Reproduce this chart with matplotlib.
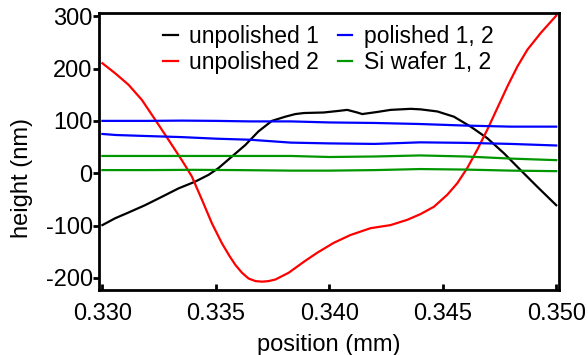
import numpy as np
import matplotlib
matplotlib.use("Agg")
import matplotlib.pyplot as plt

plt.rcParams['font.family'] = ['Liberation Sans', 'DejaVu Sans']
plt.rcParams['axes.unicode_minus'] = False

# unpolished 1 (black)
x_unpol1 = [0.33000, 0.33056, 0.33115, 0.33188, 0.33262, 0.33335, 0.33409, 0.33468,
            0.33512, 0.33571, 0.33630, 0.33688, 0.33747, 0.33806, 0.33850, 0.33888,
            0.33975, 0.34040, 0.34079, 0.34123, 0.34145, 0.34211, 0.34270, 0.34358,
            0.34402, 0.34476, 0.34549, 0.34623, 0.34696, 0.34770, 0.34843, 0.34917,
            0.35000]
h_unpol1 = [-99, -86, -75, -61, -45, -29, -16, -3,
            10, 32, 54, 80, 100, 108, 113, 115,
            116, 119, 121, 116, 113, 117, 121, 123,
            122, 118, 108, 89, 67, 38, 6, -26,
            -61]

# unpolished 2 (red)
x_unpol2 = [0.33000, 0.33056, 0.33115, 0.33174, 0.33233, 0.33291, 0.33350, 0.33394,
            0.33439, 0.33483, 0.33527, 0.33560, 0.33586, 0.33615, 0.33644, 0.33675,
            0.33703, 0.33732, 0.33762, 0.33821, 0.33888, 0.33946, 0.34019, 0.34093,
            0.34181, 0.34270, 0.34343, 0.34402, 0.34461, 0.34520, 0.34564, 0.34608,
            0.34652, 0.34696, 0.34740, 0.34785, 0.34829, 0.34873, 0.34932, 0.35000]
h_unpol2 = [210, 191, 169, 140, 102, 64, 25, -6,
            -51, -96, -134, -158, -175, -190, -201, -206,
            -207, -206, -203, -190, -169, -152, -133, -118,
            -105, -99, -89, -78, -64, -41, -19, 10,
            45, 83, 124, 166, 204, 236, 268, 301]

# polished 1, 2 (blue)
x_pol = [0.3300, 0.3306, 0.3320, 0.3335, 0.3350, 0.3365, 0.3383, 0.3400,
         0.3420, 0.3440, 0.3460, 0.3480, 0.3500]
h_pol1 = [100, 100, 100, 100.5, 100, 99, 99, 97, 96, 94, 91, 89, 89]
h_pol2 = [75, 73, 71, 69, 66, 64, 58.5, 57, 56, 59, 58, 56, 53]

# Si wafer 1, 2 (green)
x_si = [0.3300, 0.3320, 0.3340, 0.3360, 0.3383, 0.3400, 0.3420, 0.3440,
        0.3460, 0.3480, 0.3500]
h_si1 = [33, 33, 33, 33, 33, 31, 32, 34, 32, 28, 25]
h_si2 = [6, 6, 6.5, 6, 5, 5, 6, 8, 7, 5, 4]

xticks = [0.330, 0.335, 0.340, 0.345, 0.350]
yticks = [-200, -100, 0, 100, 200, 300]

fig = plt.figure(figsize=(5.88, 3.55), dpi=100)
ax = fig.add_axes([99 / 588, 1 - 289.5 / 355, 459.5 / 588, 276.5 / 355])

lw = 1.6
ax.plot(x_unpol1, h_unpol1, color='black', lw=lw, label='unpolished 1')
ax.plot(x_unpol2, h_unpol2, color='#ff0000', lw=lw, label='unpolished 2')
ax.plot(x_pol, h_pol1, color='#0000ff', lw=lw, label='polished 1, 2')
ax.plot(x_pol, h_pol2, color='#0000ff', lw=lw)
ax.plot(x_si, h_si1, color='#009600', lw=lw, label='Si wafer 1, 2')
ax.plot(x_si, h_si2, color='#009600', lw=lw)

ax.set_xlim(0.32985, 0.3501)
ax.set_ylim(-222, 306)
ax.set_xticks(xticks)
ax.set_xticklabels(['%.3f' % v for v in xticks])
ax.set_yticks(yticks)

for s in ax.spines.values():
    s.set_linewidth(2)
ax.tick_params(axis='x', direction='in', length=4, width=2, labelsize=17, pad=10)
ax.tick_params(axis='y', direction='out', length=4, width=2, labelsize=17, pad=0.5)

ax.set_xlabel('position (mm)', fontsize=17, labelpad=6)
ax.set_ylabel('height (nm)', fontsize=17)
ax.yaxis.set_label_coords(22 / 588, 0.5, transform=fig.transFigure)
ax.yaxis.label.set_verticalalignment('center')

ax.legend(loc='upper left', ncol=2, frameon=False, fontsize=16.5,
          handlelength=0.65, handletextpad=0.5, columnspacing=0.8,
          labelspacing=0.12, borderpad=0, borderaxespad=0,
          bbox_to_anchor=(163 / 588, 1 - 25 / 355), bbox_transform=fig.transFigure)

fig.savefig('out.png', dpi=100)
